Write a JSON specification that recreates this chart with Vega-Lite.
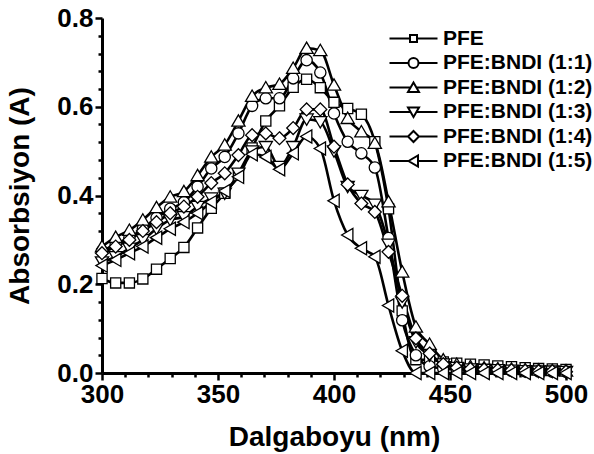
{
  "$schema": "https://vega.github.io/schema/vega-lite/v6.json",
  "width": 464,
  "height": 355,
  "autosize": {"type": "none"},
  "padding": {"left": 102, "top": 18, "right": 28, "bottom": 81},
  "background": "white",
  "config": {
    "view": {"stroke": null},
    "axis": {
      "grid": false,
      "domainColor": "black",
      "domainWidth": 3,
      "tickColor": "black",
      "tickWidth": 2.5,
      "labelFont": "Liberation Sans",
      "labelFontWeight": "bold",
      "labelFontSize": 26,
      "labelColor": "black",
      "titleFont": "Liberation Sans",
      "titleFontWeight": "bold",
      "titleFontSize": 28,
      "titleColor": "black"
    }
  },
  "data": {
    "values": [
      {"x": 300, "PFE": 0.213, "PFE:BNDI (1:1)": 0.275, "PFE:BNDI (1:2)": 0.285, "PFE:BNDI (1:3)": 0.25, "PFE:BNDI (1:4)": 0.27, "PFE:BNDI (1:5)": 0.242},
      {"x": 305.9, "PFE": 0.203, "PFE:BNDI (1:1)": 0.29, "PFE:BNDI (1:2)": 0.306, "PFE:BNDI (1:3)": 0.262, "PFE:BNDI (1:4)": 0.285, "PFE:BNDI (1:5)": 0.255},
      {"x": 311.8, "PFE": 0.203, "PFE:BNDI (1:1)": 0.305, "PFE:BNDI (1:2)": 0.322, "PFE:BNDI (1:3)": 0.281, "PFE:BNDI (1:4)": 0.3, "PFE:BNDI (1:5)": 0.27},
      {"x": 317.6, "PFE": 0.212, "PFE:BNDI (1:1)": 0.325, "PFE:BNDI (1:2)": 0.345, "PFE:BNDI (1:3)": 0.3, "PFE:BNDI (1:4)": 0.32, "PFE:BNDI (1:5)": 0.285},
      {"x": 323.5, "PFE": 0.234, "PFE:BNDI (1:1)": 0.35, "PFE:BNDI (1:2)": 0.373, "PFE:BNDI (1:3)": 0.325, "PFE:BNDI (1:4)": 0.34, "PFE:BNDI (1:5)": 0.305},
      {"x": 329.4, "PFE": 0.258, "PFE:BNDI (1:1)": 0.37, "PFE:BNDI (1:2)": 0.397, "PFE:BNDI (1:3)": 0.345, "PFE:BNDI (1:4)": 0.36, "PFE:BNDI (1:5)": 0.325},
      {"x": 335.3, "PFE": 0.283, "PFE:BNDI (1:1)": 0.385, "PFE:BNDI (1:2)": 0.409, "PFE:BNDI (1:3)": 0.352, "PFE:BNDI (1:4)": 0.375, "PFE:BNDI (1:5)": 0.34},
      {"x": 341.2, "PFE": 0.327, "PFE:BNDI (1:1)": 0.42, "PFE:BNDI (1:2)": 0.445, "PFE:BNDI (1:3)": 0.375, "PFE:BNDI (1:4)": 0.397, "PFE:BNDI (1:5)": 0.36},
      {"x": 347.1, "PFE": 0.371, "PFE:BNDI (1:1)": 0.461, "PFE:BNDI (1:2)": 0.487, "PFE:BNDI (1:3)": 0.394, "PFE:BNDI (1:4)": 0.428, "PFE:BNDI (1:5)": 0.385},
      {"x": 352.9, "PFE": 0.405, "PFE:BNDI (1:1)": 0.487, "PFE:BNDI (1:2)": 0.514, "PFE:BNDI (1:3)": 0.405, "PFE:BNDI (1:4)": 0.45, "PFE:BNDI (1:5)": 0.41},
      {"x": 358.8, "PFE": 0.446, "PFE:BNDI (1:1)": 0.54, "PFE:BNDI (1:2)": 0.568, "PFE:BNDI (1:3)": 0.45, "PFE:BNDI (1:4)": 0.491, "PFE:BNDI (1:5)": 0.442},
      {"x": 364.7, "PFE": 0.507, "PFE:BNDI (1:1)": 0.602, "PFE:BNDI (1:2)": 0.624, "PFE:BNDI (1:3)": 0.5, "PFE:BNDI (1:4)": 0.536, "PFE:BNDI (1:5)": 0.493},
      {"x": 370.6, "PFE": 0.568, "PFE:BNDI (1:1)": 0.619, "PFE:BNDI (1:2)": 0.643, "PFE:BNDI (1:3)": 0.51, "PFE:BNDI (1:4)": 0.54, "PFE:BNDI (1:5)": 0.487},
      {"x": 376.5, "PFE": 0.602, "PFE:BNDI (1:1)": 0.619, "PFE:BNDI (1:2)": 0.651, "PFE:BNDI (1:3)": 0.465, "PFE:BNDI (1:4)": 0.529, "PFE:BNDI (1:5)": 0.459},
      {"x": 382.4, "PFE": 0.644, "PFE:BNDI (1:1)": 0.664, "PFE:BNDI (1:2)": 0.687, "PFE:BNDI (1:3)": 0.51, "PFE:BNDI (1:4)": 0.552, "PFE:BNDI (1:5)": 0.495},
      {"x": 388.2, "PFE": 0.662, "PFE:BNDI (1:1)": 0.705, "PFE:BNDI (1:2)": 0.732, "PFE:BNDI (1:3)": 0.572, "PFE:BNDI (1:4)": 0.594, "PFE:BNDI (1:5)": 0.533},
      {"x": 394.1, "PFE": 0.643, "PFE:BNDI (1:1)": 0.677, "PFE:BNDI (1:2)": 0.727, "PFE:BNDI (1:3)": 0.566, "PFE:BNDI (1:4)": 0.594, "PFE:BNDI (1:5)": 0.506},
      {"x": 400, "PFE": 0.61, "PFE:BNDI (1:1)": 0.585, "PFE:BNDI (1:2)": 0.649, "PFE:BNDI (1:3)": 0.5, "PFE:BNDI (1:4)": 0.51, "PFE:BNDI (1:5)": 0.388},
      {"x": 405.9, "PFE": 0.596, "PFE:BNDI (1:1)": 0.521, "PFE:BNDI (1:2)": 0.574, "PFE:BNDI (1:3)": 0.42, "PFE:BNDI (1:4)": 0.425, "PFE:BNDI (1:5)": 0.311},
      {"x": 411.8, "PFE": 0.583, "PFE:BNDI (1:1)": 0.495, "PFE:BNDI (1:2)": 0.544, "PFE:BNDI (1:3)": 0.4, "PFE:BNDI (1:4)": 0.382, "PFE:BNDI (1:5)": 0.281},
      {"x": 417.6, "PFE": 0.521, "PFE:BNDI (1:1)": 0.463, "PFE:BNDI (1:2)": 0.518, "PFE:BNDI (1:3)": 0.38, "PFE:BNDI (1:4)": 0.363, "PFE:BNDI (1:5)": 0.262},
      {"x": 423.5, "PFE": 0.37, "PFE:BNDI (1:1)": 0.304, "PFE:BNDI (1:2)": 0.386, "PFE:BNDI (1:3)": 0.29, "PFE:BNDI (1:4)": 0.273, "PFE:BNDI (1:5)": 0.152},
      {"x": 429.4, "PFE": 0.14, "PFE:BNDI (1:1)": 0.119, "PFE:BNDI (1:2)": 0.228, "PFE:BNDI (1:3)": 0.16, "PFE:BNDI (1:4)": 0.174, "PFE:BNDI (1:5)": 0.05},
      {"x": 435.3, "PFE": 0.03, "PFE:BNDI (1:1)": 0.04, "PFE:BNDI (1:2)": 0.104, "PFE:BNDI (1:3)": 0.07, "PFE:BNDI (1:4)": 0.078, "PFE:BNDI (1:5)": 0.0},
      {"x": 441.2, "PFE": 0.03, "PFE:BNDI (1:1)": 0.015, "PFE:BNDI (1:2)": 0.065, "PFE:BNDI (1:3)": 0.04, "PFE:BNDI (1:4)": 0.044, "PFE:BNDI (1:5)": 0.0},
      {"x": 447.1, "PFE": 0.025, "PFE:BNDI (1:1)": 0.01, "PFE:BNDI (1:2)": 0.03, "PFE:BNDI (1:3)": 0.02, "PFE:BNDI (1:4)": 0.02, "PFE:BNDI (1:5)": 0.0},
      {"x": 452.9, "PFE": 0.022, "PFE:BNDI (1:1)": 0.008, "PFE:BNDI (1:2)": 0.02, "PFE:BNDI (1:3)": 0.012, "PFE:BNDI (1:4)": 0.012, "PFE:BNDI (1:5)": 0.0},
      {"x": 458.8, "PFE": 0.02, "PFE:BNDI (1:1)": 0.007, "PFE:BNDI (1:2)": 0.015, "PFE:BNDI (1:3)": 0.009, "PFE:BNDI (1:4)": 0.009, "PFE:BNDI (1:5)": 0.0},
      {"x": 464.7, "PFE": 0.018, "PFE:BNDI (1:1)": 0.006, "PFE:BNDI (1:2)": 0.012, "PFE:BNDI (1:3)": 0.008, "PFE:BNDI (1:4)": 0.008, "PFE:BNDI (1:5)": 0.0},
      {"x": 470.6, "PFE": 0.016, "PFE:BNDI (1:1)": 0.005, "PFE:BNDI (1:2)": 0.01, "PFE:BNDI (1:3)": 0.007, "PFE:BNDI (1:4)": 0.007, "PFE:BNDI (1:5)": 0.0},
      {"x": 476.5, "PFE": 0.014, "PFE:BNDI (1:1)": 0.005, "PFE:BNDI (1:2)": 0.009, "PFE:BNDI (1:3)": 0.006, "PFE:BNDI (1:4)": 0.006, "PFE:BNDI (1:5)": 0.0},
      {"x": 482.4, "PFE": 0.012, "PFE:BNDI (1:1)": 0.004, "PFE:BNDI (1:2)": 0.008, "PFE:BNDI (1:3)": 0.005, "PFE:BNDI (1:4)": 0.005, "PFE:BNDI (1:5)": 0.0},
      {"x": 488.2, "PFE": 0.01, "PFE:BNDI (1:1)": 0.004, "PFE:BNDI (1:2)": 0.007, "PFE:BNDI (1:3)": 0.004, "PFE:BNDI (1:4)": 0.004, "PFE:BNDI (1:5)": 0.0},
      {"x": 494.1, "PFE": 0.009, "PFE:BNDI (1:1)": 0.003, "PFE:BNDI (1:2)": 0.006, "PFE:BNDI (1:3)": 0.004, "PFE:BNDI (1:4)": 0.004, "PFE:BNDI (1:5)": 0.0},
      {"x": 500, "PFE": 0.008, "PFE:BNDI (1:1)": 0.003, "PFE:BNDI (1:2)": 0.005, "PFE:BNDI (1:3)": 0.003, "PFE:BNDI (1:4)": 0.003, "PFE:BNDI (1:5)": 0.0}
    ]
  },
  "transform": [
    {"fold": ["PFE", "PFE:BNDI (1:1)", "PFE:BNDI (1:2)", "PFE:BNDI (1:3)", "PFE:BNDI (1:4)", "PFE:BNDI (1:5)"], "as": ["series", "y"]}
  ],
  "encoding": {
    "x": {
      "field": "x",
      "type": "quantitative",
      "scale": {"domain": [300, 500], "nice": false, "zero": false},
      "axis": {
        "title": "Dalgaboyu (nm)",
        "values": [300, 310, 320, 330, 340, 350, 360, 370, 380, 390, 400, 410, 420, 430, 440, 450, 460, 470, 480, 490, 500],
        "labelExpr": "datum.value % 50 === 0 ? datum.label : ''",
        "tickSize": {"condition": {"test": "datum.value % 50 === 0", "value": 7}, "value": 4},
        "labelPadding": 1,
        "labelFlush": false,
        "labelOverlap": false,
        "titlePadding": 16
      }
    },
    "y": {
      "field": "y",
      "type": "quantitative",
      "scale": {"domain": [0, 0.8], "nice": false},
      "axis": {
        "title": "Absorbsiyon (A)",
        "values": [0, 0.04, 0.08, 0.12, 0.16, 0.2, 0.24, 0.28, 0.32, 0.36, 0.4, 0.44, 0.48, 0.52, 0.56, 0.6, 0.64, 0.68, 0.72, 0.76, 0.8],
        "labelExpr": "abs(datum.value * 5 - round(datum.value * 5)) < 0.001 ? format(datum.value, '.1f') : ''",
        "tickSize": {"condition": {"test": "abs(datum.value * 5 - round(datum.value * 5)) < 0.001", "value": 7}, "value": 4},
        "labelPadding": 2,
        "labelFlush": false,
        "labelOverlap": false,
        "titlePadding": 22
      }
    }
  },
  "layer": [
    {
      "mark": {"type": "line", "interpolate": "monotone", "strokeWidth": 2.6},
      "encoding": {
        "color": {
          "field": "series",
          "scale": {
            "domain": ["PFE", "PFE:BNDI (1:1)", "PFE:BNDI (1:2)", "PFE:BNDI (1:3)", "PFE:BNDI (1:4)", "PFE:BNDI (1:5)"],
            "range": ["black", "black", "black", "black", "black", "black"]
          },
          "legend": {
            "orient": "none",
            "legendX": 306,
            "legendY": 10,
            "title": null,
            "padding": 0,
            "rowPadding": 2.5,
            "symbolSize": 100,
            "symbolStrokeWidth": 2,
            "symbolOffset": -5,
            "labelOffset": 19,
            "labelFont": "Liberation Sans",
            "labelFontWeight": "bold",
            "labelFontSize": 21,
            "labelColor": "black",
            "labelLimit": 0,
            "encode": {
              "symbols": {
                "update": {
                  "shape": {"signal": "datum.value === 'PFE' ? 'M-4.8,0H-0.7M0.7,0H4.8M-0.7,-0.7H0.7V0.7H-0.7Z' : datum.value === 'PFE:BNDI (1:1)' ? 'M-4.8,0H-1M1,0H4.8M1,0A1,1,0,1,1,-1,0A1,1,0,1,1,1,0Z' : datum.value === 'PFE:BNDI (1:2)' ? 'M-4.8,0H-0.58M0.58,0H4.8M0,-1L1.1,0.9H-1.1Z' : datum.value === 'PFE:BNDI (1:3)' ? 'M-4.8,0H-0.58M0.58,0H4.8M0,1L1.1,-0.9H-1.1Z' : datum.value === 'PFE:BNDI (1:4)' ? 'M-4.8,0H-1.1M1.1,0H4.8M0,-1.1L1.1,0L0,1.1L-1.1,0Z' : 'M-4.8,0H-1M0.9,0H4.8M-1,0L0.9,-1.1V1.1Z'"},
                  "size": {"value": 100},
                  "strokeWidth": {"value": 2},
                  "fill": {"value": "white"},
                  "stroke": {"value": "black"},
                  "opacity": {"value": 1}
                }
              }
            }
          }
        }
      }
    },
    {
      "mark": {"type": "point", "filled": true, "fill": "white", "stroke": "black", "strokeWidth": 1.3, "size": 150, "opacity": 1},
      "encoding": {
        "shape": {
          "field": "series",
          "scale": {
            "domain": ["PFE:BNDI (1:5)", "PFE:BNDI (1:4)", "PFE:BNDI (1:3)", "PFE:BNDI (1:2)", "PFE:BNDI (1:1)", "PFE"],
            "range": [
              "M-1,0L0.85,-1.08V1.08Z",
              "M0,-1.05L1.05,0L0,1.05L-1.05,0Z",
              "M0,1L1.08,-0.85H-1.08Z",
              "M0,-1L1.08,0.85H-1.08Z",
              "M0.92,0A0.92,0.92,0,1,1,-0.92,0A0.92,0.92,0,1,1,0.92,0Z",
              "M-0.83,-0.83H0.83V0.83H-0.83Z"
            ]
          },
          "legend": null
        }
      }
    }
  ]
}
